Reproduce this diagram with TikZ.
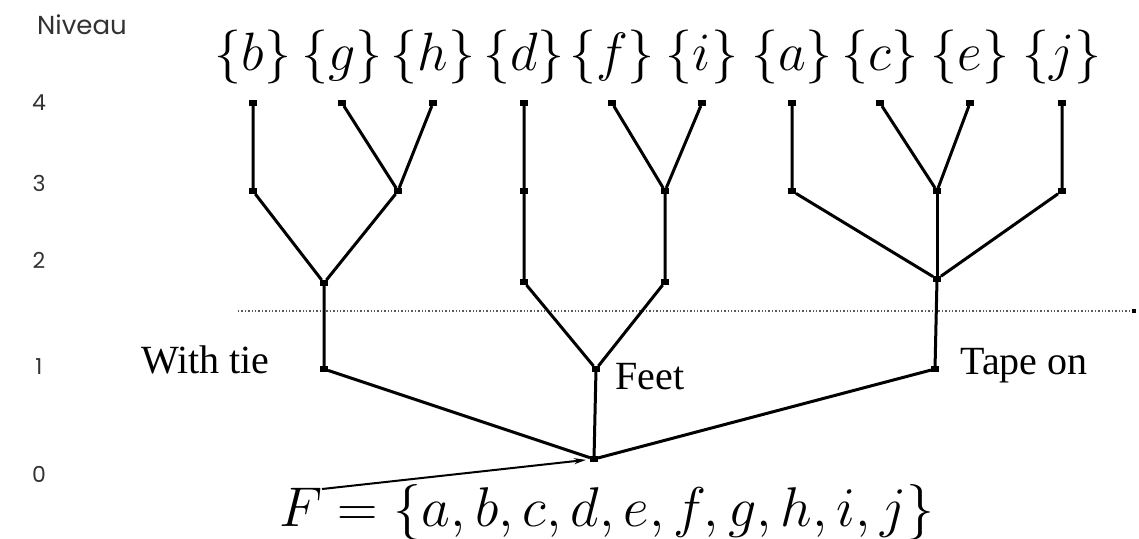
\documentclass[tikz,border=0pt]{standalone}
\usepackage{fix-cm}
\usepackage{fontspec}
\newfontfamily\levelfont{Poppins}
\newfontfamily\tagfont{Liberation Serif}
\usetikzlibrary{arrows.meta}
\definecolor{levelgray}{RGB}{50,50,50}
\definecolor{cutgray}{RGB}{90,90,90}
\tikzset{
    % Points of the tree
    junction/.style={
        rectangle,
        fill=black,
        inner sep=0pt,
        minimum width=3.6pt,
        minimum height=2.6pt
    },
    % Branches
    branch/.style={
        line width=1.5pt,
        draw=black
    },
    cutline/.style={
        densely dotted,
        line width=0.7pt,
        draw=cutgray
    },
    pointer/.style={
        -{Stealth[length=6pt, width=3pt]},
        line width=1pt,
        draw=black,
        shorten >=2pt
    },
    % Labels
    singleton/.style={
        inner sep=0pt,
        font=\fontsize{27}{30}\selectfont
    },
    setname/.style={
        inner sep=0pt,
        font=\fontsize{28}{32}\selectfont
    },
    tag/.style={
        inner sep=0pt,
        font=\tagfont\fontsize{20}{22}\selectfont
    },
    levelnum/.style={
        inner sep=0pt,
        text=levelgray,
        font=\levelfont\fontsize{11}{12}\selectfont
    },
    levelname/.style={
        inner sep=0pt,
        text=levelgray,
        font=\levelfont\fontsize{13}{15}\selectfont
    }
}

\begin{document}
\begin{tikzpicture}[x=0.5pt, y=-0.5pt]
    \useasboundingbox (0,0) rectangle (1139,538);

    % Level scale
    \node[levelname] (niveau) at (82,25) {Niveau};
    \foreach \lv/\y in {4/103, 3/183, 2/260, 1/367, 0/474} {
        \node[levelnum] (lv\lv) at (39,\y) {\lv};
    }

    % Cut line
    \coordinate (cutstart) at (238,311);
    \node[junction, minimum width=2.4pt, minimum height=2.4pt] (cutend) at (1134,311) {};
    \draw[cutline] (cutstart) -- (cutend);

    % Leaves and singletons
    \foreach \n/\x in {b/253, g/342, h/433, d/524, f/612, i/702, a/792, c/880, e/970, j/1062} {
        \node[junction] (\n) at (\x,103) {};
        \node[singleton] (set\n) at (\x,57) {$\{\n\}$};
    }

    % Level 3
    \node[junction] (b3) at (253,191) {};
    \node[junction] (gh) at (398,191) {};
    \node[junction] (d3) at (524,191) {};
    \node[junction] (fi) at (665,191) {};
    \node[junction] (a3) at (792,191) {};
    \node[junction] (ce) at (937,191) {};
    \node[junction] (j3) at (1062,191) {};

    % Level 2
    \node[junction] (bgh) at (324,283) {};
    \node[junction] (d2) at (524,282) {};
    \node[junction] (fi2) at (665,282) {};
    \node[junction] (acej) at (937,279) {};

    % Level 1 and root
    \node[junction] (withtie) at (324,369) {};
    \node[junction] (feet) at (596,369) {};
    \node[junction] (tapeon) at (935,369) {};
    \node[junction] (root) at (594,459) {};

    % Branches
    \draw[branch] (b) -- (b3) -- (bgh);
    \draw[branch] (g) -- (gh) -- (h);
    \draw[branch] (gh) -- (bgh) -- (withtie) -- (root);
    \draw[branch] (d) -- (d3) -- (d2) -- (feet) -- (root);
    \draw[branch] (f) -- (fi) -- (i);
    \draw[branch] (fi) -- (fi2) -- (feet);
    \draw[branch] (a) -- (a3) -- (acej);
    \draw[branch] (c) -- (ce) -- (e);
    \draw[branch] (ce) -- (acej);
    \draw[branch] (j) -- (j3) -- (acej);
    \draw[branch] (acej) -- (tapeon) -- (root);

    % Class names
    \node[tag, anchor=east] (withtielabel) at (270,360) {With tie};
    \node[tag, anchor=west] (feetlabel) at (615,377) {Feet};
    \node[tag, anchor=west] (tapeonlabel) at (960,366) {Tape on};

    % Whole set
    \node[setname] (fullset) at (607,512) {$F=\{a,b,c,d,e,f,g,h,i,j\}$};
    \coordinate (fullsettail) at (322,489);
    \draw[pointer] (fullsettail) -- (root);

\end{tikzpicture}
\end{document}
